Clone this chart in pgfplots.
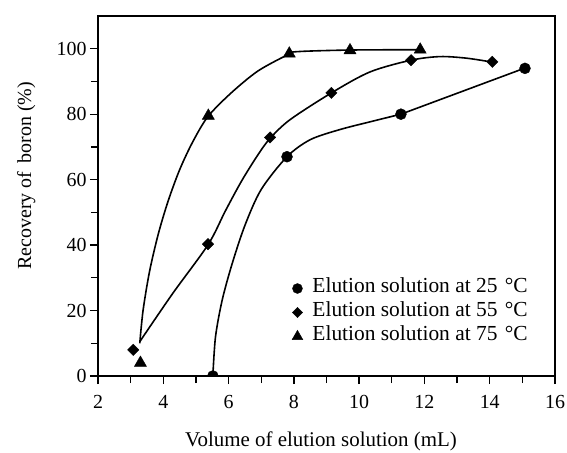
\documentclass[border=0pt]{standalone}
\usepackage{fontspec}
\setmainfont{Liberation Serif}
\usepackage{pgfplots}
\pgfplotsset{compat=1.18}
\begin{document}
\begin{tikzpicture}
\begin{axis}[
  at={(0,0)}, anchor=origin,
  scale only axis, width=457bp, height=360bp,
  xmin=2, xmax=16, ymin=0, ymax=110,
  xtick={2,4,...,16}, ytick={0,20,...,100},
  minor x tick num=1, minor y tick num=1,
  tick pos=left, tick align=outside,
  major tick length=8bp, minor tick length=7bp,
  every tick/.style={black, line width=1.3bp},
  axis line style={line width=1.6bp},
  /pgf/number format/assume math mode=true,
  ticklabel style={font=\fontsize{20}{22}\selectfont},
  xticklabel style={anchor=base, yshift=-24bp},
  yticklabel style={anchor=east},
  xlabel={Volume of elution solution (mL)},
  ylabel={Recovery of~\,boron (\%)},
  xlabel style={font=\fontsize{21}{23}\selectfont, at={(axis description cs:0.488,-0.197)}, anchor=base},
  ylabel style={font=\fontsize{20}{22}\selectfont, at={(axis description cs:-0.1466,0.556)}, anchor=base},
  clip marker paths=true,
  legend style={at={(axis cs:7.94,19.4)}, anchor=west, draw=none, fill=none,
    font=\fontsize{21.5}{22}\selectfont, inner sep=0pt,
    nodes={inner sep=1bp, text height=15bp, text depth=7bp}},
  legend cell align=left,
  legend image code/.code={\draw[#1] plot coordinates {(0bp,0bp)}; \path[draw=none] (0bp,0bp) (14bp,0bp);},
]
% 25 C curve
\addplot[black, line width=1.6bp, smooth, forget plot] coordinates {
(5.52,0.3)(5.6,12)(5.8,23)(6.1,34)(6.5,46)(7.0,57)(7.79,67.0)(8.50,72.2)(9.41,75.3)(10.43,77.9)(11.28,80.0)};
\addplot[black, line width=1.6bp, forget plot] coordinates {(11.28,80.0)(15.08,94.1)};
% 55 C curve
\addplot[black, line width=1.6bp, smooth, forget plot] coordinates {
(3.28,10.5)(4.28,25.1)(5.37,40.1)(5.9,50.4)(6.4,59.6)(6.9,67.6)(7.27,72.6)(7.88,78.3)(9.15,86.5)(10.33,92.9)(11.59,96.5)(12.48,97.6)(13.30,97.1)(14.08,95.9)};
% 75 C curve
\addplot[black, line width=1.6bp, smooth, forget plot] coordinates {
(3.28,10.0)(3.38,20)(3.58,32)(3.85,43.5)(4.15,53.5)(4.5,63)(4.9,71.5)(5.37,79.3)(6.08,86.5)(6.9,93.2)(7.82,98.2)(8.09,99.1)(9.72,99.6)(11.86,99.7)};
% markers
\addplot[only marks, mark=*, mark size=5.5bp, black, forget plot] coordinates {
(5.52,0)(7.79,67)(11.28,80)(15.08,94)};
\addplot[only marks, mark=square*, mark size=4bp, mark options={rotate=45}, black, forget plot] coordinates {
(3.08,8)(5.37,40.3)(7.27,72.9)(9.15,86.5)(11.59,96.5)(14.08,96)};
\addplot[only marks, mark=triangle*, mark size=7bp, black, forget plot] coordinates {
(3.3,4)(5.38,79.5)(7.86,98.5)(9.72,99.5)(11.87,99.7)};
\addlegendimage{only marks, mark=*, mark size=5bp, black}
\addlegendentry{Elution solution at 25 \hspace{2bp}°C}
\addlegendimage{only marks, mark=square*, mark size=3.6bp, mark options={rotate=45}, black}
\addlegendentry{Elution solution at 55 \hspace{2bp}°C}
\addlegendimage{only marks, mark=triangle*, mark size=6.2bp, black}
\addlegendentry{Elution solution at 75 \hspace{2bp}°C}
\end{axis}
\pgfresetboundingbox
\path[use as bounding box] (-98bp,-77bp) rectangle (469bp,376bp);
\end{tikzpicture}
\end{document}
